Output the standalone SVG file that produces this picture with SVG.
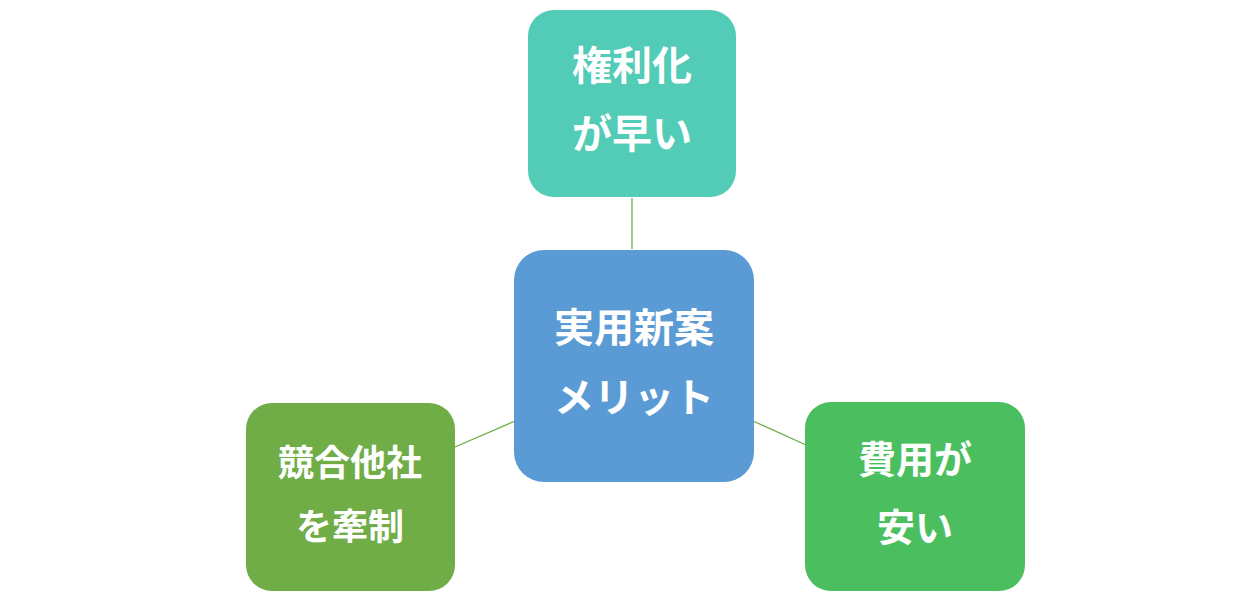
<svg xmlns="http://www.w3.org/2000/svg" width="1260" height="608" viewBox="0 0 1260 608">
<style>
text{font-family:"Noto Sans CJK JP","Noto Sans CJK SC",sans-serif;font-weight:bold;fill:#fff;text-anchor:middle}
.l{stroke:#70AD47;stroke-width:1.3;fill:none}
</style>
<rect width="1260" height="608" fill="#fff"/>
<g id="connectors">
<line class="l" x1="632" y1="198" x2="632" y2="249"/>
<line class="l" x1="455" y1="447" x2="515" y2="421"/>
<line class="l" x1="753" y1="421" x2="806" y2="445"/>
</g>
<g id="top"><rect x="528" y="10" width="208" height="187" rx="26" fill="#52CBB7"/>
<text x="632" y="80" font-size="40">権利化</text><text x="632" y="148" font-size="40">が早い</text></g>
<g id="center"><rect x="514" y="250" width="240" height="232" rx="30" fill="#5B9BD5"/>
<text x="634" y="342" font-size="40">実用新案</text><text x="634" y="412" font-size="40">メリット</text></g>
<g id="left"><rect x="246" y="403" width="209" height="188" rx="26" fill="#70AD47"/>
<text x="350" y="476" font-size="36">競合他社</text><text x="350" y="540" font-size="36">を牽制</text></g>
<g id="right"><rect x="805" y="402" width="220" height="189" rx="26" fill="#4BBF5F"/>
<text x="915" y="473" font-size="38">費用が</text><text x="915" y="541" font-size="38">安い</text></g>
</svg>
